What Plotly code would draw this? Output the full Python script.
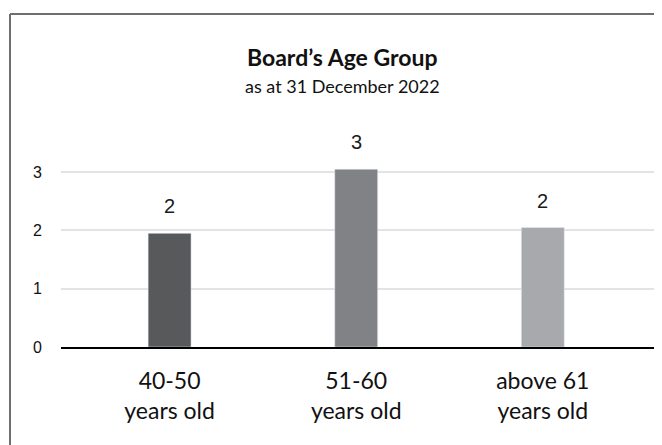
import plotly.graph_objects as go

categorias = ["40-50<br>years old", "51-60<br>years old", "above 61<br>years old"]
alturas = [1.95, 3.05, 2.05]
rotulos = ["2", "3", "2"]
cores = ["#58595B", "#808285", "#A7A9AC"]

# a página tem 8px de margem no body, então a figura ocupa 654x437
LARGURA, ALTURA = 654, 437
M_L, M_R, M_T, M_B = 53, 5, 135, 98
pw = LARGURA - M_L - M_R
ph = ALTURA - M_T - M_B


def px_x(px):
    return (px - M_L) / pw


def px_y(py):
    return (ALTURA - M_B - py) / ph


fig = go.Figure(go.Bar(
    x=categorias,
    y=alturas,
    marker_color=cores,
    width=0.23,
    showlegend=False,
    hoverinfo="skip",
))

for cat, h, txt in zip(categorias, alturas, rotulos):
    fig.add_annotation(
        x=cat, y=h, text=txt, showarrow=False, yanchor="bottom", yshift=14,
        font=dict(family="Liberation Sans, Arial", size=20, color="#1a1a1a"),
    )

# moldura: só o topo e o lado esquerdo aparecem
borda = dict(color="#6f6f6f", width=2)
fig.add_shape(type="line", xref="paper", yref="paper",
              x0=px_x(2), x1=px_x(700), y0=px_y(6), y1=px_y(6), line=borda)
fig.add_shape(type="line", xref="paper", yref="paper",
              x0=px_x(2), x1=px_x(2), y0=px_y(6), y1=px_y(500), line=borda)

fig.add_annotation(
    xref="paper", yref="paper", x=px_x(334), y=px_y(49),
    xanchor="center", yanchor="middle", showarrow=False,
    text="<b>Board’s Age Group</b>",
    font=dict(family="Lato", size=23, color="#111"),
)
fig.add_annotation(
    xref="paper", yref="paper", x=px_x(334), y=px_y(78),
    xanchor="center", yanchor="middle", showarrow=False,
    text="as at 31 December 2022",
    font=dict(family="Lato", size=18, color="#111"),
)

fig.update_layout(
    width=LARGURA, height=ALTURA,
    margin=dict(l=M_L, r=M_R, t=M_T, b=M_B),
    paper_bgcolor="white", plot_bgcolor="white",
    xaxis=dict(
        range=[-0.582, 2.612],
        showgrid=False, showline=True, linecolor="black", linewidth=1.5,
        ticks="", ticklabelstandoff=13,
        tickfont=dict(family="Lato", size=23, color="#111"),
    ),
    yaxis=dict(
        range=[0, 3.5], tickvals=[0, 1, 2, 3],
        showgrid=True, gridcolor="#e3e3e3", gridwidth=1.5, zeroline=False,
        ticklabelstandoff=18,
        tickfont=dict(family="Liberation Sans, Arial", size=16, color="#111"),
    ),
)

fig.write_html("out.html")
